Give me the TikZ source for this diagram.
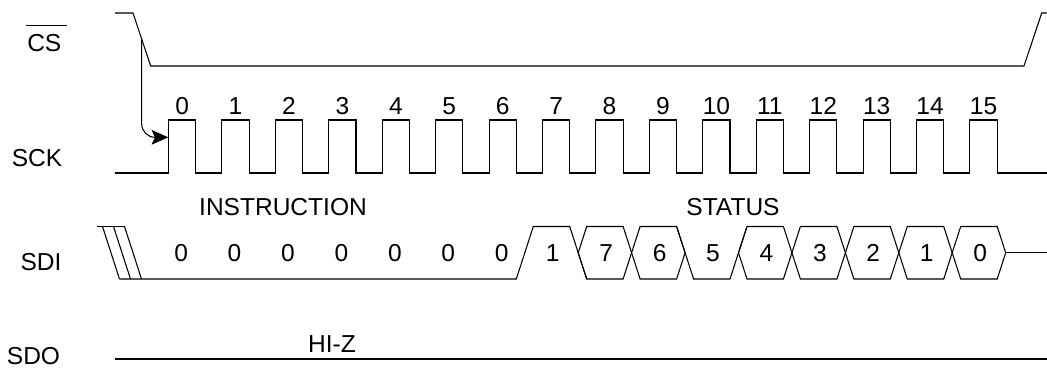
\documentclass[tikz,border=0pt]{standalone}
\usepackage{fontspec}
\setmainfont{Liberation Sans}
\usetikzlibrary{arrows.meta}
\begin{document}
\begin{tikzpicture}[x=0.75pt,y=-0.75pt,
  sig/.style={line width=0.8pt, black, line join=miter},
  lbl/.style={font=\fontsize{18.4}{22}\selectfont, inner sep=0pt, anchor=center},
]
\useasboundingbox (0,0) rectangle (1047,369);
\def\T{226.5}\def\B{279}\def\M{252.75}
% signal names
\node[lbl] (cs) at (44.3,43.5) {CS};
\draw[sig] (26,25.7) -- (66.5,25.7);
\node[lbl] (sck) at (37,158) {SCK};
\node[lbl] (sdi) at (41,262.3) {SDI};
\node[lbl] (sdo) at (33.5,356.5) {SDO};
% CS
\draw[sig] (115,13) -- (133,13) -- (150.7,66) -- (1024,66) -- (1041.7,13) -- (1047,13);
% SCK
\draw[sig] (115,173) foreach \k in {0,...,15} { -- ({168.5+53.43*\k},173) -- ++(0,-53) -- ++(27.2,0) -- ++(0,53) } -- (1047,173);
\foreach \k in {0,...,15} \node[lbl] (n\k) at ({182.1+53.43*\k},106) {\k};
% arrow from CS to first clock
\coordinate (a0) at (141.7,39);
\coordinate (a1) at (168.3,137.3);
\draw[sig, rounded corners=10pt, -{Stealth[length=12.5pt,width=11pt,inset=2.5pt]}] (a0) |- (a1);
% SDI
\node[lbl] (instr) at (283,207.5) {INSTRUCTION};
\node[lbl] (status) at (733,207) {STATUS};
\draw[sig] (97,\T) -- (124.5,\T);
\draw[sig] (102.5,\T) -- (119.5,\B);
\draw[sig] (113.5,\T) -- (130.5,\B);
\draw[sig] (124.5,\T) -- (141.5,\B);
\draw[sig] (119.5,\B) -- (516.3,\B) -- (533.3,\T) -- (569.7,\T) -- (586.7,\B);
\draw[sig] (676.6,\T) -- (693.6,\B) -- (730.0,\B) -- (747.0,\T);
% hexagon cells (start fall a, end fall b)
\foreach \a/\b in {569.7/623.1, 623.1/676.6, 730.0/783.4, 783.4/836.9, 836.9/890.3, 890.3/943.7, 943.7/997.2}
  \draw[sig] ({\a+8.5},\M) -- ({\a+17},\T) -- (\b,\T) -- ({\b+8.5},\M) -- (\b,\B) -- ({\a+17},\B) -- cycle;
\draw[sig] (1005.7,\M) -- (1047,\M);
\foreach \k in {0,...,6} \node[lbl] (z\k) at ({181.1+53.43*\k},\M) {0};
\foreach \v [count=\i from 7] in {1,7,6,5,4,3,2,1,0}
  \node[lbl] (s\i) at ({195.7+53.43*\i-17},\M) {\v};
% SDO
\draw[sig] (115,359) -- (1047,359);
\node[lbl] (hiz) at (332,344) {HI-Z};
\end{tikzpicture}
\end{document}
